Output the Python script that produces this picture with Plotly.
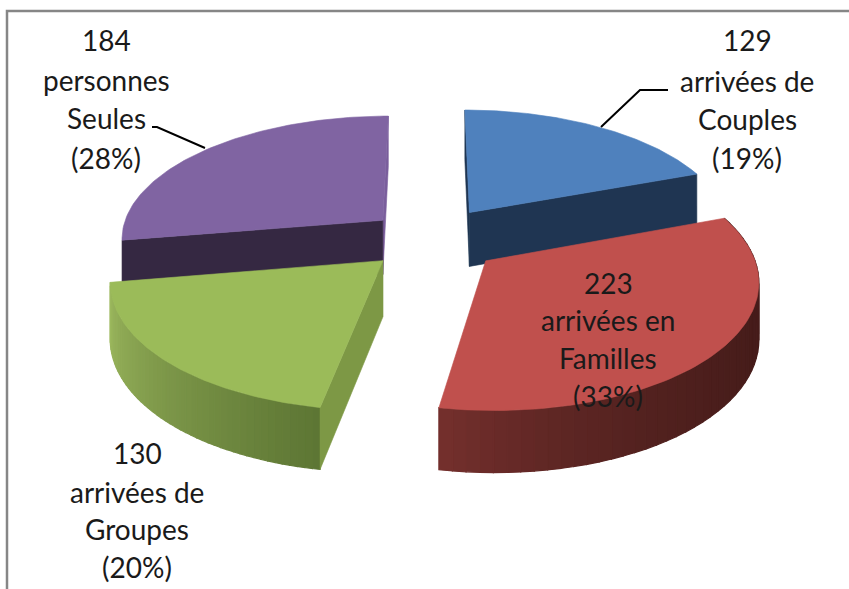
import numpy as np
import plotly.graph_objects as go

# ---- data ----
names = ["Couples", "Familles", "Groupes", "Seules"]
values = [129, 223, 130, 184]
explode = [0.27, 0.27, 0.245, 0.24]
top_colors = ["#4f81bd", "#c0504d", "#9bbb59", "#8064a2"]
wall_colors = ["#1f3552", "#6b2c2a", "#7d9845", "#352842"]
rim_start = ["#2a4668", "#451c1a", "#5d7634", "#5a4672"]
rim_end = ["#1f3552", "#75302d", "#9db95f", "#6b5388"]
rim_gamma = [1, 3, 1, 1]
label_lines = [
    ["129", "arrivées de", "Couples", "(19%)"],
    ["223", "arrivées en", "Familles", "(33%)"],
    ["130", "arrivées de", "Groupes", "(20%)"],
    ["184", "personnes", "Seules", "(28%)"],
]
label_x = [747, 608, 137, 106]
label_y = [[40, 81, 119, 158], [283, 320, 358, 396], [453, 492, 529, 567], [40, 80, 118, 158]]

# ---- projection of the pie into the page ----
CX, CY, RX, RY, K, DEPTH = 430, 239, 263, 123, 0.135, 55


def project(px, py, down=False):
    s = 1 / (1 - K * py)
    x = CX + RX * s * px
    y = CY + RY * s * py
    if down:
        y = y + DEPTH * s ** 0.7
    return x, y


def hex2rgb(h):
    return np.array([int(h[i:i + 2], 16) for i in (1, 3, 5)], float)


def mix(a, b, t):
    c = hex2rgb(a) * (1 - t) + hex2rgb(b) * t
    return "rgb(%d,%d,%d)" % tuple(c)


fig = go.Figure()


def poly(xs, ys, color, lw=0.6):
    fig.add_trace(go.Scatter(
        x=list(xs) + [xs[0]], y=list(ys) + [ys[0]], mode="lines", fill="toself",
        fillcolor=color, line=dict(color=color, width=lw),
        hoverinfo="skip", showlegend=False))


total = sum(values)
edges = np.concatenate([[0], np.cumsum(values)]) / total * 2 * np.pi


def slice_geom(i):
    a0, a1 = edges[i], edges[i + 1]
    mid = (a0 + a1) / 2
    ax = explode[i] * np.sin(mid)
    ay = -explode[i] * np.cos(mid)
    return a0, a1, ax, ay


def wall(i, ang, color):
    a0, a1, ax, ay = slice_geom(i)
    px, py = ax + np.sin(ang), ay - np.cos(ang)
    p = [project(ax, ay), project(px, py), project(px, py, True), project(ax, ay, True)]
    poly([q[0] for q in p], [q[1] for q in p], color)


def rim(i, n=48):
    a0, a1, ax, ay = slice_geom(i)
    th = np.linspace(a0, a1, n + 1)
    for j in range(n):
        t0, t1 = th[j], th[j + 1]
        c = mix(rim_start[i], rim_end[i], ((j + 0.5) / n) ** rim_gamma[i])
        pts = [project(ax + np.sin(t), ay - np.cos(t)) for t in (t0, t1)]
        low = [project(ax + np.sin(t), ay - np.cos(t), True) for t in (t1, t0)]
        poly([q[0] for q in pts + low], [q[1] for q in pts + low], c, lw=1.2)


def top(i, n=90):
    a0, a1, ax, ay = slice_geom(i)
    th = np.linspace(a0, a1, n)
    pts = [project(ax, ay)] + [project(ax + np.sin(t), ay - np.cos(t)) for t in th]
    poly([q[0] for q in pts], [q[1] for q in pts], top_colors[i])


# back slices first
wall(0, edges[0], "#1f3552")
wall(0, edges[1], wall_colors[0])
top(0)
wall(3, edges[4], "#7a5e9c")
wall(3, edges[3], wall_colors[3])
top(3)
# front slices
rim(2)
wall(2, edges[2], "#7d9845")
top(2)
rim(1)
top(1)

# leader lines
leader_x = [[601, 640, 668], [205, 157, 152]]
leader_y = [[127, 90, 90], [148, 127, 127]]
for lx, ly in zip(leader_x, leader_y):
    fig.add_trace(go.Scatter(x=lx, y=ly, mode="lines", line=dict(color="#000000", width=2),
                             hoverinfo="skip", showlegend=False))

# frame (top and left only)
fig.add_trace(go.Scatter(x=[7, 7, 849], y=[589, 11, 11], mode="lines",
                         line=dict(color="#868686", width=2.5),
                         hoverinfo="skip", showlegend=False))

for lines, lx, lys in zip(label_lines, label_x, label_y):
    for txt, ly in zip(lines, lys):
        fig.add_annotation(x=lx, y=ly, text=txt, showarrow=False,
                           font=dict(family="Lato", size=28, color="#1a1a1a"),
                           xanchor="center", yanchor="middle")

fig.update_layout(
    width=849, height=589, margin=dict(l=0, r=0, t=0, b=0),
    paper_bgcolor="white", plot_bgcolor="white", showlegend=False,
    xaxis=dict(range=[0, 849], visible=False, fixedrange=True),
    yaxis=dict(range=[589, 0], visible=False, fixedrange=True),
)
fig.write_html("out.html", config={"displayModeBar": False},
               post_script="document.body.style.margin='0';document.body.style.overflow='hidden';")
